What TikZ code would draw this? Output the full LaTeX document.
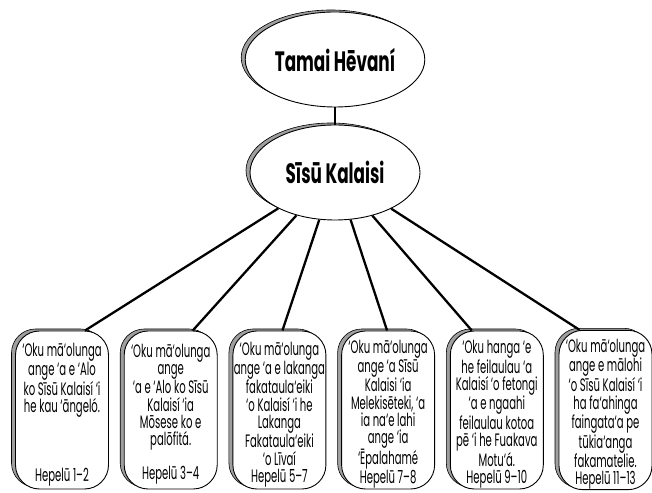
\documentclass[tikz,border=0pt]{standalone}
\usepackage{fontspec}
\setmainfont{Liberation Sans}
\newfontfamily\chartfont[FakeStretch=0.56]{Poppins}
\newfontfamily\headfont[FakeStretch=0.6]{Poppins}
\usepackage{tikz}
\usetikzlibrary{positioning,shadows,shapes.geometric}
\newcommand\padtop{\rule{0pt}{22pt}}

\tikzset{
  rimshadow/.style={copy shadow={shadow xshift=-4pt,shadow yshift=2pt,fill=gray!75,draw=black,line width=0.6pt}},
  headoval/.style={ellipse,draw,line width=0.9pt,fill=white,rimshadow,minimum width=170pt,minimum height=95pt,
    font=\headfont\bfseries\fontsize{28}{32}\selectfont},
  leafbox/.style={draw,line width=0.9pt,fill=white,rounded corners=24pt,rimshadow,minimum width=93pt,minimum height=158pt,
    inner sep=0pt,align=center,font=\chartfont\fontsize{18}{17.2}\selectfont},
  branch/.style={line width=2.3pt}
}

\begin{document}
\begin{tikzpicture}[x=1pt,y=1pt]
  \useasboundingbox (0,0) rectangle (652,492);
  \node[headoval] (tamai) at (335,432.5) {Tamai Hēvaní};
  \node[headoval] (sisu) at (335,319.5) {Sīsū Kalaisi};
  \draw[branch] (tamai) -- (sisu);

  \node[leafbox] (heb1) at (62,82) {\padtop‘Oku mā‘olunga\\ange ‘a e ‘Alo\\ko Sīsū Kalaisí ‘i\\he kau ‘āngeló.\\ \\ \\ \\Hepelū 1–2};
  \node[leafbox] (heb2) at (170.7,82) {\padtop‘Oku mā‘olunga\\ange\\‘a e ‘Alo ko Sīsū\\Kalaisí ‘ia\\Mōsese ko e\\palōfitá.\\ \\Hepelū 3–4};
  \node[leafbox] (heb3) at (279.4,82) {\padtop‘Oku mā‘olunga\\ange ‘a e lakanga\\fakataula‘eiki\\‘o Kalaisí ‘i he\\Lakanga\\Fakataula‘eiki\\‘o Līvaí\\Hepelū 5–7};
  \node[leafbox] (heb4) at (388.1,82) {\padtop‘Oku mā‘olunga\\ange ‘a Sīsū\\Kalaisi ‘ia\\Melekisēteki, ‘a\\ia na‘e lahi\\ange ‘ia\\‘Ēpalahamé\\Hepelū 7–8};
  \node[leafbox] (heb5) at (496.8,82) {\padtop‘Oku hanga ‘e\\he feilaulau ‘a\\Kalaisí ‘o fetongi\\‘a e ngaahi\\feilaulau kotoa\\pē ‘i he Fuakava\\Motu‘á.\\Hepelū 9–10};
  \node[leafbox] (heb6) at (605.5,82) {\padtop‘Oku mā‘olunga\\ange e mālohi\\‘o Sīsū Kalaisí ‘i\\ha fa‘ahinga\\faingata‘a pe\\tūkia‘anga\\fakamatelie.\\Hepelū 11–13};

  % spokes out of Sisu Kalaisi
  \draw[branch] (sisu) -- ([xshift=23pt]heb1.north);
  \draw[branch] (sisu) -- ([xshift=22pt]heb2.north);
  \draw[branch] (sisu) -- ([xshift=3pt]heb3.north);
  \draw[branch] (sisu) -- ([xshift=-1pt]heb4.north);
  \draw[branch] (sisu) -- ([xshift=-25pt]heb5.north);
  \draw[branch] (sisu) -- ([xshift=-26pt]heb6.north);
\end{tikzpicture}
\end{document}
